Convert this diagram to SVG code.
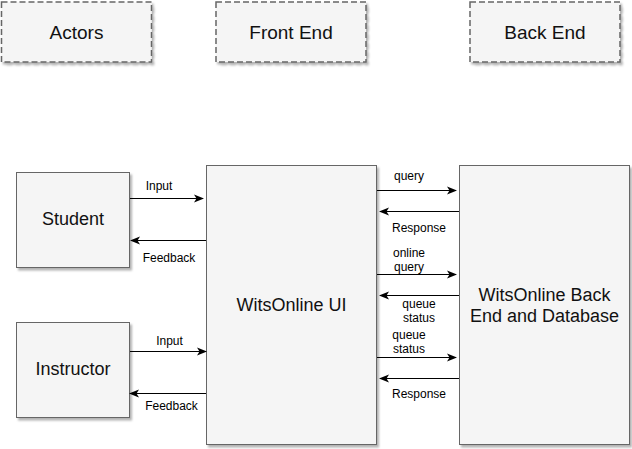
<svg xmlns="http://www.w3.org/2000/svg" width="632" height="449" viewBox="0 0 632 449">
<style>
.dash{fill:#f5f5f5;stroke:#666666;stroke-width:1.5;stroke-dasharray:6 3}
.box{fill:#f5f5f5;stroke:#666666;stroke-width:1}
.t{font-family:"Liberation Sans",Arial,sans-serif;fill:#111111;text-anchor:middle}
.big{font-size:18px}
.title{font-size:19px}
.lbl{font-family:"Liberation Sans",Arial,sans-serif;font-size:12px;fill:#000000;text-anchor:middle}
.ln{stroke:#000000;stroke-width:1;fill:none;marker-end:url(#ah)}
</style>
<defs>
<filter id="sh" x="-10%" y="-10%" width="130%" height="130%">
<feDropShadow dx="2" dy="2.5" stdDeviation="0.8" flood-color="#000000" flood-opacity="0.3"/>
</filter>
<marker id="ah" viewBox="0 0 10 10" refX="9" refY="5" markerWidth="10" markerHeight="10" markerUnits="userSpaceOnUse" orient="auto">
<path d="M0,1 L10,5 L0,9 L2.5,5 Z" fill="#000000"/>
</marker>
</defs>
<g id="actors"><rect class="dash" x="1.5" y="2" width="150" height="60" filter="url(#sh)"/><text class="t title" x="76.5" y="39">Actors</text></g>
<g id="frontend"><rect class="dash" x="216" y="2" width="150" height="60" filter="url(#sh)"/><text class="t title" x="291" y="39">Front End</text></g>
<g id="backend"><rect class="dash" x="470" y="2" width="150" height="60" filter="url(#sh)"/><text class="t title" x="545" y="39">Back End</text></g>
<g id="student"><rect class="box" x="16.5" y="172.5" width="113" height="95" filter="url(#sh)"/><text class="t big" x="73" y="225">Student</text></g>
<g id="instructor"><rect class="box" x="16.5" y="322.5" width="113" height="95" filter="url(#sh)"/><text class="t big" x="73" y="375">Instructor</text></g>
<g id="ui"><rect class="box" x="206.5" y="165.5" width="170" height="279" filter="url(#sh)"/><text class="t big" x="291.5" y="311">WitsOnline UI</text></g>
<g id="db"><rect class="box" x="459.5" y="165.5" width="170" height="279" filter="url(#sh)"/><text class="t big" x="544.5" y="301">WitsOnline Back</text><text class="t big" x="544.5" y="322">End and Database</text></g>
<g id="connectors">
<line class="ln" x1="130" y1="198.5" x2="203" y2="198.5"/>
<line class="ln" x1="206" y1="240.5" x2="131" y2="240.5"/>
<line class="ln" x1="130" y1="351.5" x2="206" y2="351.5"/>
<line class="ln" x1="206" y1="393.5" x2="130" y2="393.5"/>
<line class="ln" x1="377" y1="190.5" x2="456" y2="190.5"/>
<line class="ln" x1="459" y1="211.5" x2="380" y2="211.5"/>
<line class="ln" x1="377" y1="274.5" x2="456" y2="274.5"/>
<line class="ln" x1="459" y1="295.5" x2="380" y2="295.5"/>
<line class="ln" x1="377" y1="357.5" x2="456" y2="357.5"/>
<line class="ln" x1="459" y1="378.5" x2="380" y2="378.5"/>
<text class="lbl" x="159" y="190">Input</text>
<text class="lbl" x="169" y="262">Feedback</text>
<text class="lbl" x="169.5" y="345">Input</text>
<text class="lbl" x="171.5" y="410">Feedback</text>
<text class="lbl" x="409" y="180">query</text>
<text class="lbl" x="419" y="232">Response</text>
<text class="lbl" x="409" y="257">online</text>
<text class="lbl" x="409" y="271">query</text>
<text class="lbl" x="419" y="308">queue</text>
<text class="lbl" x="419" y="322">status</text>
<text class="lbl" x="409" y="339">queue</text>
<text class="lbl" x="409" y="353">status</text>
<text class="lbl" x="419" y="398">Response</text>
</g>
</svg>
